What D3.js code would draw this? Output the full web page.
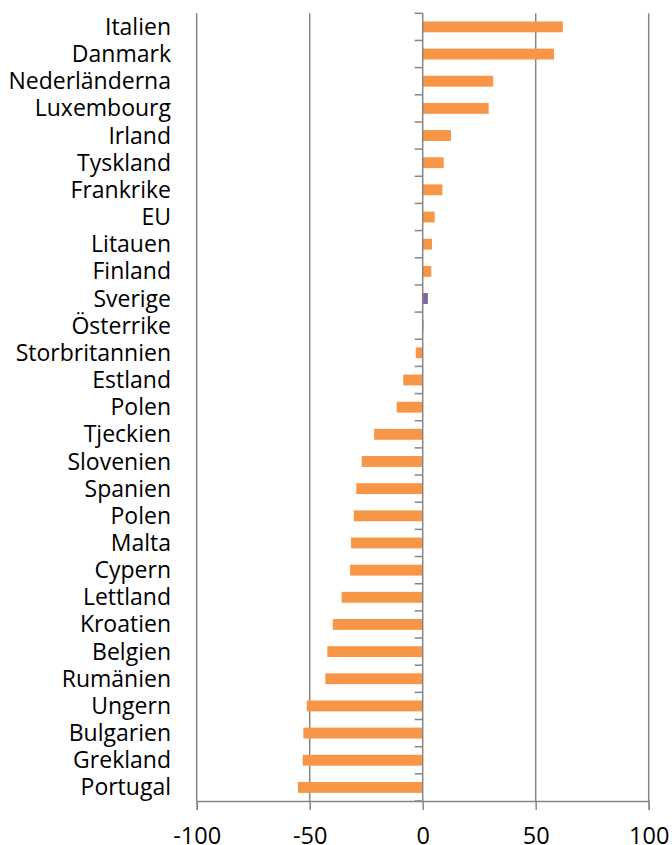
<!DOCTYPE html>
<html>
<head>
<meta charset="utf-8">
<script src="https://cdn.jsdelivr.net/npm/d3@7"></script>
<style>
  body { margin: 0; background: #fff; }
  svg text { font-family: "Open Sans", sans-serif; fill: #000; }
</style>
</head>
<body>
<svg id="chart" width="672" height="845"></svg>
<script>
// country names, top to bottom
var countries = ["Italien", "Danmark", "Nederländerna", "Luxembourg", "Irland", "Tyskland",
  "Frankrike", "EU", "Litauen", "Finland", "Sverige", "Österrike", "Storbritannien", "Estland",
  "Polen", "Tjeckien", "Slovenien", "Spanien", "Polen ", "Malta", "Cypern", "Lettland",
  "Kroatien", "Belgien", "Rumänien", "Ungern", "Bulgarien", "Grekland", "Portugal"];
// values
var values = [62, 58.1, 31.2, 29.2, 12.5, 9.3, 8.7, 5.3, 4.1, 3.8, 2.3, 0.4, -3.1, -8.6,
  -11.5, -21.5, -27, -29.4, -30.5, -31.7, -32.1, -35.9, -39.8, -42.2, -43.1, -51.3, -52.8,
  -53.1, -55.2];
var highlight = ["Sverige"];
var xTicks = [-100, -50, 0, 50, 100];

var svg = d3.select("#chart");
var plotTop = 13.3, plotBottom = 801, plotLeft = 196.7, plotRight = 648.7;
var axisCol = "#868686";

var x = d3.scaleLinear().domain([-100, 100]).range([plotLeft, plotRight]);
var y = d3.scaleBand().domain(countries).range([plotTop, plotBottom]).paddingInner(0.6).paddingOuter(0.3);
var step = y.step();

// vertical gridlines (not at zero, that one is the axis)
svg.append("g").selectAll("line")
  .data(xTicks.filter(function (d) { return d !== 0; }))
  .enter().append("line")
  .attr("x1", function (d) { return x(d); }).attr("x2", function (d) { return x(d); })
  .attr("y1", plotTop).attr("y2", plotBottom)
  .attr("stroke", axisCol).attr("stroke-width", 1.5);

// bars
svg.append("g").selectAll("rect")
  .data(values)
  .enter().append("rect")
  .attr("x", function (d) { return x(Math.min(0, d)); })
  .attr("y", function (d, i) { return y(countries[i]); })
  .attr("width", function (d) { return Math.abs(x(d) - x(0)); })
  .attr("height", y.bandwidth())
  .attr("fill", function (d, i) { return highlight.indexOf(countries[i]) >= 0 ? "#8064A2" : "#F79646"; });

// bottom axis
var xAxis = d3.axisBottom(x).tickValues(xTicks).tickSize(9).tickPadding(17)
  .tickFormat(function (d) { return String(d); });
var gx = svg.append("g").attr("transform", "translate(0," + plotBottom + ")").call(xAxis);
gx.select(".domain").attr("stroke", axisCol).attr("stroke-width", 1.5);
gx.selectAll(".tick line").attr("stroke", axisCol).attr("stroke-width", 1.5);
gx.selectAll(".tick text").attr("font-size", 23.5).attr("font-family", "'Open Sans', sans-serif").attr("fill", "#000");

// category axis at zero
var yTickPos = d3.range(countries.length + 1).map(function (i) { return plotTop + i * step; });
var gy = svg.append("g");
gy.append("line").attr("x1", x(0)).attr("x2", x(0)).attr("y1", plotTop).attr("y2", plotBottom)
  .attr("stroke", axisCol).attr("stroke-width", 1.5);
gy.selectAll("line.tk").data(yTickPos).enter().append("line").attr("class", "tk")
  .attr("x1", x(0) - 8).attr("x2", x(0)).attr("y1", function (d) { return d; }).attr("y2", function (d) { return d; })
  .attr("stroke", axisCol).attr("stroke-width", 1.5);

// labels at the left
svg.append("g").selectAll("text")
  .data(countries)
  .enter().append("text")
  .attr("x", 171)
  .attr("y", function (d) { return y(d) + y.bandwidth() / 2; })
  .attr("dy", "0.35em")
  .attr("text-anchor", "end")
  .attr("font-size", 23)
  .text(function (d) { return d.trim(); });
</script>
</body>
</html>
